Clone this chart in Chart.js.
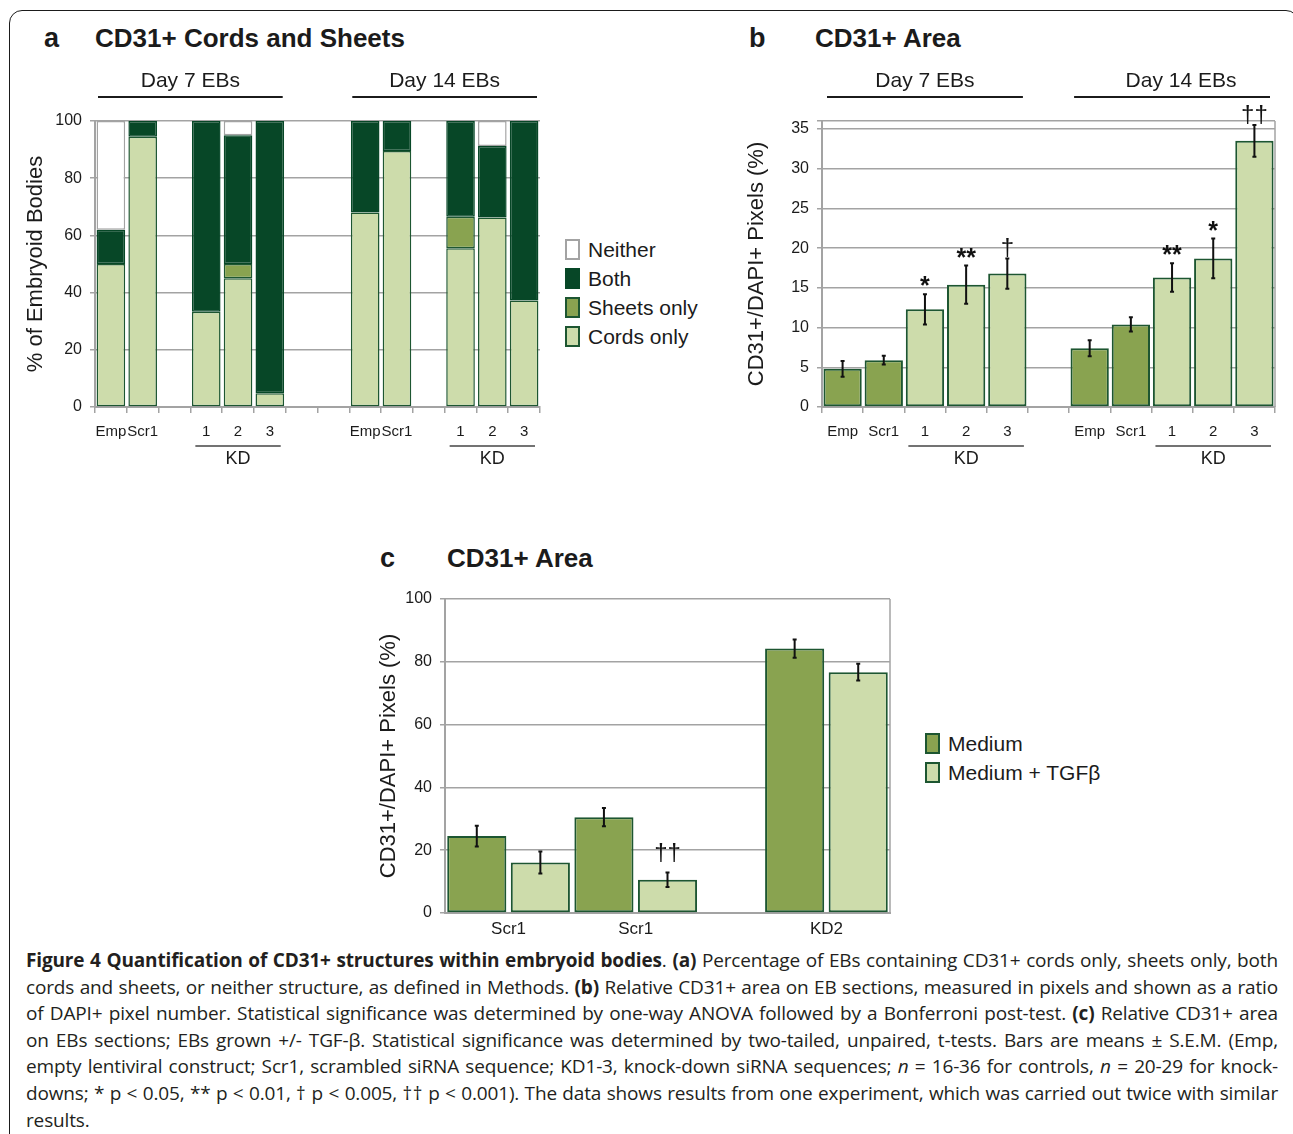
<!DOCTYPE html>
<html lang="en">
<head>
<meta charset="utf-8">
<title>Quantification of CD31+ structures within embryoid bodies</title>
<script src="https://cdn.jsdelivr.net/npm/chart.js@4.4.1/dist/chart.umd.min.js"></script>
<style>
  html, body { margin: 0; padding: 0; background: #fff; }
  body { position: relative; width: 1293px; height: 1134px; overflow: hidden;
         font-family: "Liberation Sans", Arial, sans-serif; color: #1b1b1b; }
  .frame { position: absolute; left: 9px; top: 10px; width: 1290px; height: 1200px;
           border: 1.5px solid #1b1b1b; border-radius: 13px; box-sizing: border-box; }
  .abs { position: absolute; white-space: nowrap; }
  .letter { font-weight: bold; font-size: 27px; line-height: 30px; }
  .title { font-weight: bold; font-size: 26px; line-height: 30px; }
  canvas { position: absolute; }
  .legend { position: absolute; font-size: 21px; line-height: 29px; white-space: nowrap; }
  .legend .item { display: flex; align-items: center; height: 29px; }
  .legend .sw { width: 15px; height: 21px; box-sizing: border-box; border: 2px solid; margin-right: 8px; }
  .caption { position: absolute; left: 26px; top: 947px; width: 1252px;
             font-family: "Open Sans", sans-serif; font-size: 19px; letter-spacing: -0.15px;
             line-height: 26.6px; color: #231f20; }
  .caption div { text-align: justify; text-align-last: justify; height: 26.6px; }
  .caption div.last { text-align-last: left; }
</style>
</head>
<body>
<div class="frame"></div>

<div class="abs letter" style="left:44px;top:23px">a</div>
<div class="abs title" style="left:95px;top:23px">CD31+ Cords and Sheets</div>
<div class="abs letter" style="left:749px;top:23px">b</div>
<div class="abs title" style="left:815px;top:23px">CD31+ Area</div>
<div class="abs letter" style="left:380px;top:543px">c</div>
<div class="abs title" style="left:447px;top:543px">CD31+ Area</div>

<canvas id="chartA" width="530" height="425" style="left:20px;top:55px"></canvas>
<div id="legendA" class="legend" style="left:565px;top:235px"></div>

<canvas id="chartB" width="555" height="425" style="left:730px;top:55px"></canvas>

<canvas id="chartC" width="530" height="360" style="left:370px;top:580px"></canvas>
<div id="legendC" class="legend" style="left:925px;top:729px"></div>

<div class="caption">
  <div><b>Figure 4 Quantification of CD31+ structures within embryoid bodies</b>. <b>(a)</b> Percentage of EBs containing CD31+ cords only, sheets only, both</div>
  <div>cords and sheets, or neither structure, as defined in Methods. <b>(b)</b> Relative CD31+ area on EB sections, measured in pixels and shown as a ratio</div>
  <div>of DAPI+ pixel number. Statistical significance was determined by one-way ANOVA followed by a Bonferroni post-test. <b>(c)</b> Relative CD31+ area</div>
  <div>on EBs sections; EBs grown +/- TGF-β. Statistical significance was determined by two-tailed, unpaired, t-tests. Bars are means ± S.E.M. (Emp,</div>
  <div>empty lentiviral construct; Scr1, scrambled siRNA sequence; KD1-3, knock-down siRNA sequences; <i>n</i> = 16-36 for controls, <i>n</i> = 20-29 for knock-</div>
  <div>downs; * p &lt; 0.05, ** p &lt; 0.01, † p &lt; 0.005, †† p &lt; 0.001). The data shows results from one experiment, which was carried out twice with similar</div>
  <div class="last">results.</div>
</div>

<script>
// ---------- Panel a: EBs with CD31+ cords / sheets (% of embryoid bodies) ----------
const aCategories = ['Emp', 'Scr1', '', '1', '2', '3', '', '', 'Emp', 'Scr1', '', '1', '2', '3'];
const aCordsOnly  = [50, 94.5, null, 33.3, 45, 4.8, null, null, 68, 89.5, null, 55.5, 66.3, 37.2];
const aSheetsOnly = [null, null, null, null, 5, null, null, null, null, null, null, 11, null, null];
const aBoth       = [12, 5.5, null, 66.7, 45, 95.2, null, null, 32, 10.5, null, 33.5, 25, 62.8];
const aNeither    = [38, null, null, null, 5, null, null, null, null, null, null, null, 8.7, null];
const aTicks = [0, 20, 40, 60, 80, 100];

// ---------- Panel b: CD31+/DAPI+ pixels (%) ----------
const bCategories = ['Emp', 'Scr1', '1', '2', '3', '', 'Emp', 'Scr1', '1', '2', '3'];
const bArea       = [4.8, 5.9, 12.3, 15.4, 16.8, null, 7.4, 10.4, 16.3, 18.7, 33.5];
const bAreaSem    = [1.0, 0.55, 1.9, 2.4, 1.9, null, 1.0, 0.9, 1.8, 2.5, 2.0];
const bSignif     = ['', '', '*', '**', '†', '', '', '', '**', '*', '††'];
const bTicks = [0, 5, 10, 15, 20, 25, 30, 35];

// ---------- Panel c: CD31+/DAPI+ pixels (%), +/- TGF-beta ----------
const cGroups     = ['Scr1', 'Scr1', 'KD2'];
const cMedium     = [24.5, 30.5, 84.2];
const cMediumSem  = [3.3, 2.9, 2.9];
const cTgf        = [16.1, 10.6, 76.7];
const cTgfSem     = [3.5, 2.3, 2.65];
const cTgfSignif  = ['', '††', ''];
const cTicks = [0, 20, 40, 60, 80, 100];

// ---------- shared styling ----------
const INK = '#1b1b1b';
const GRID = '#a3a3a3';
const EDGE = '#1d5631';
const LIGHT = '#cddcab';
const MID = '#89a350';
const DARK = '#074727';
const FONT = '"Liberation Sans", Arial, sans-serif';

Chart.defaults.font.family = FONT;
Chart.defaults.color = INK;

// error bars, significance marks, plot border and bracketed group labels
const figureMarks = {
  id: 'figureMarks',
  beforeDatasetsDraw(chart, args, opts) {
    if (!opts.rightBorder) return;
    const { ctx, chartArea: a } = chart;
    ctx.save();
    ctx.strokeStyle = GRID; ctx.lineWidth = 1.5;
    ctx.beginPath(); ctx.moveTo(a.right, a.top); ctx.lineTo(a.right, a.bottom); ctx.stroke();
    ctx.restore();
  },
  afterDatasetsDraw(chart, args, opts) {
    const ctx = chart.ctx;
    const xs = chart.scales.x, ys = chart.scales.y;
    ctx.save();
    chart.data.datasets.forEach((ds, di) => {
      if (!ds.errors) return;
      chart.getDatasetMeta(di).data.forEach((bar, i) => {
        const v = ds.data[i], e = ds.errors[i];
        if (v == null || e == null) return;
        const yTop = ys.getPixelForValue(v + e), yBot = ys.getPixelForValue(v - e);
        ctx.strokeStyle = '#111'; ctx.lineWidth = 2;
        ctx.beginPath();
        ctx.moveTo(bar.x, yTop); ctx.lineTo(bar.x, yBot);
        ctx.moveTo(bar.x - 2, yTop); ctx.lineTo(bar.x + 2, yTop);
        ctx.moveTo(bar.x - 2, yBot); ctx.lineTo(bar.x + 2, yBot);
        ctx.stroke();
        const mark = ds.marks && ds.marks[i];
        if (mark) {
          const dagger = mark.includes('†');
          ctx.fillStyle = '#111';
          ctx.font = dagger ? '24px ' + FONT : 'bold 25px ' + FONT;
          ctx.textAlign = 'center'; ctx.textBaseline = 'alphabetic';
          ctx.fillText(mark, bar.x, yTop - (dagger ? opts.daggerGap : opts.starGap));
        }
      });
    });
    const n = chart.data.labels.length;
    const slot = (xs.right - xs.left) / n;
    (opts.spans || []).forEach(s => {
      const x0 = xs.getPixelForValue(s.from) - slot / 2 + (s.inset || 0);
      const x1 = xs.getPixelForValue(s.to) + slot / 2 - (s.inset || 0);
      if (s.lineY != null) {
        ctx.strokeStyle = s.lineColor || INK; ctx.lineWidth = s.lineWidth || 2;
        ctx.beginPath(); ctx.moveTo(x0, s.lineY); ctx.lineTo(x1, s.lineY); ctx.stroke();
      }
      ctx.fillStyle = INK; ctx.font = s.font;
      ctx.textAlign = 'center'; ctx.textBaseline = 'middle';
      ctx.fillText(s.text, (x0 + x1) / 2 + (s.dx || 0), s.textY);
    });
    ctx.restore();
  }
};

function fixedTicks(values) {
  return scale => { scale.ticks = values.map(v => ({ value: v })); };
}

function yAxis(ticks, max, title, width, titlePad) {
  return {
    min: 0, max: max,
    afterBuildTicks: fixedTicks(ticks),
    afterFit: s => { s.width = width; },
    grid: { color: GRID, lineWidth: 1.5, tickLength: 5, tickColor: GRID },
    border: { color: GRID, width: 2 },
    ticks: { font: { size: 16 }, color: INK, padding: 8 },
    title: { display: true, text: title, font: { size: 22 }, color: INK, padding: { top: titlePad, bottom: 0 } }
  };
}

const common = {
  responsive: false,
  animation: false,
  devicePixelRatio: 1,
  events: [],
  plugins: { legend: { display: false }, tooltip: { enabled: false } }
};

// ---------- Panel a ----------
const chartA = new Chart(document.getElementById('chartA'), {
  type: 'bar',
  plugins: [figureMarks],
  data: {
    labels: aCategories,
    datasets: [
      { label: 'Cords only',  data: aCordsOnly,  backgroundColor: LIGHT, borderColor: EDGE },
      { label: 'Sheets only', data: aSheetsOnly, backgroundColor: MID,   borderColor: EDGE },
      { label: 'Both',        data: aBoth,       backgroundColor: DARK,  borderColor: DARK },
      { label: 'Neither',     data: aNeither,    backgroundColor: '#ffffff', borderColor: GRID }
    ]
  },
  options: {
    ...common,
    layout: { padding: { left: 0, top: 66, right: 10, bottom: 0 } },
    datasets: { bar: { barPercentage: 0.9, categoryPercentage: 1, borderWidth: 1.5, borderSkipped: false } },
    plugins: {
      ...common.plugins,
      figureMarks: {
        spans: [
          { from: 0, to: 5,  text: 'Day 7 EBs',  textY: 26, lineY: 42, inset: 3, font: '21px ' + FONT },
          { from: 8, to: 13, text: 'Day 14 EBs', textY: 26, lineY: 42, inset: 3, font: '21px ' + FONT },
          { from: 3, to: 5,   text: 'KD', textY: 404, lineY: 391, inset: 5, lineWidth: 1.5, lineColor: '#444', font: '18px ' + FONT },
          { from: 11, to: 13, text: 'KD', textY: 404, lineY: 391, inset: 5, lineWidth: 1.5, lineColor: '#444', font: '18px ' + FONT }
        ]
      }
    },
    scales: {
      x: {
        stacked: true,
        afterFit: s => { s.height = 73; },
        grid: { display: true, drawOnChartArea: false, tickLength: 6, color: GRID, lineWidth: 1.5 },
        border: { color: GRID, width: 2 },
        ticks: { autoSkip: false, maxRotation: 0, font: { size: 15 }, color: INK, padding: 10 }
      },
      y: { ...yAxis(aTicks, 100, '% of Embryoid Bodies', 75, 3), stacked: true }
    }
  }
});

// ---------- Panel b ----------
const isKnockdown = bCategories.map(c => ['1', '2', '3'].includes(c));
const chartB = new Chart(document.getElementById('chartB'), {
  type: 'bar',
  plugins: [figureMarks],
  data: {
    labels: bCategories,
    datasets: [{
      label: 'CD31+/DAPI+ Pixels (%)',
      data: bArea,
      errors: bAreaSem,
      marks: bSignif,
      backgroundColor: isKnockdown.map(k => k ? LIGHT : MID),
      borderColor: EDGE
    }]
  },
  options: {
    ...common,
    layout: { padding: { left: 0, top: 66, right: 10, bottom: 0 } },
    datasets: { bar: { barPercentage: 0.93, categoryPercentage: 1, borderWidth: 2, borderSkipped: false } },
    plugins: {
      ...common.plugins,
      figureMarks: {
        rightBorder: true, starGap: 0, daggerGap: 3,
        spans: [
          { from: 0, to: 4,  text: 'Day 7 EBs',  textY: 26, lineY: 42, inset: 5, font: '21px ' + FONT },
          { from: 6, to: 10, text: 'Day 14 EBs', textY: 26, lineY: 42, inset: 5, dx: 9, font: '21px ' + FONT },
          { from: 2, to: 4,  text: 'KD', textY: 404, lineY: 391, inset: 4, lineWidth: 1.5, lineColor: '#444', font: '18px ' + FONT },
          { from: 8, to: 10, text: 'KD', textY: 404, lineY: 391, inset: 4, lineWidth: 1.5, lineColor: '#444', font: '18px ' + FONT }
        ]
      }
    },
    scales: {
      x: {
        afterFit: s => { s.height = 73; },
        grid: { display: true, drawOnChartArea: false, tickLength: 6, color: GRID, lineWidth: 1.5 },
        border: { color: GRID, width: 2 },
        ticks: { autoSkip: false, maxRotation: 0, font: { size: 15 }, color: INK, padding: 10 }
      },
      y: yAxis(bTicks.concat([36]), 36, 'CD31+/DAPI+ Pixels (%)', 92, 14)
    }
  }
});
chartB.options.scales.y.ticks.callback = v => (bTicks.includes(v) ? v : '');
chartB.update();

// ---------- Panel c ----------
// each group takes two slots (Medium, Medium + TGFβ); an empty slot separates the KD2 group
const cSlotOfGroup = [0, 2, 5];
const cSlotCount = 7;
const cMediumSlots = new Array(cSlotCount).fill(null);
const cMediumSemSlots = new Array(cSlotCount).fill(null);
const cTgfSlots = new Array(cSlotCount).fill(null);
const cTgfSemSlots = new Array(cSlotCount).fill(null);
const cTgfSignifSlots = new Array(cSlotCount).fill('');
cSlotOfGroup.forEach((s, g) => {
  cMediumSlots[s] = cMedium[g];       cMediumSemSlots[s] = cMediumSem[g];
  cTgfSlots[s + 1] = cTgf[g];         cTgfSemSlots[s + 1] = cTgfSem[g];
  cTgfSignifSlots[s + 1] = cTgfSignif[g];
});

const chartC = new Chart(document.getElementById('chartC'), {
  type: 'bar',
  plugins: [figureMarks],
  data: {
    labels: new Array(cSlotCount).fill(''),
    datasets: [
      { label: 'Medium', data: cMediumSlots, errors: cMediumSemSlots, backgroundColor: MID, borderColor: EDGE },
      { label: 'Medium + TGFβ', data: cTgfSlots, errors: cTgfSemSlots, marks: cTgfSignifSlots, backgroundColor: LIGHT, borderColor: EDGE }
    ]
  },
  options: {
    ...common,
    layout: { padding: { left: 0, top: 19, right: 10, bottom: 0 } },
    datasets: { bar: { grouped: false, barPercentage: 0.93, categoryPercentage: 1, borderWidth: 2, borderSkipped: false } },
    plugins: {
      ...common.plugins,
      figureMarks: {
        rightBorder: true, starGap: 0, daggerGap: 12,
        spans: cGroups.map((name, g) => ({
          from: cSlotOfGroup[g], to: cSlotOfGroup[g] + 1, text: name, textY: 349, font: '17px ' + FONT
        }))
      }
    },
    scales: {
      x: {
        afterFit: s => { s.height = 27; },
        grid: { display: false },
        border: { color: GRID, width: 2 },
        ticks: { display: false }
      },
      y: yAxis(cTicks, 100, 'CD31+/DAPI+ Pixels (%)', 75, 6)
    }
  }
});

// ---------- legends built from the chart datasets ----------
function buildLegend(el, chart, reverse) {
  const items = chart.data.datasets.map(ds => ds);
  if (reverse) items.reverse();
  items.forEach(ds => {
    const row = document.createElement('div');
    row.className = 'item';
    const sw = document.createElement('span');
    sw.className = 'sw';
    sw.style.background = ds.backgroundColor;
    sw.style.borderColor = ds.borderColor;
    const label = document.createElement('span');
    label.textContent = ds.label;
    row.appendChild(sw); row.appendChild(label);
    el.appendChild(row);
  });
}
buildLegend(document.getElementById('legendA'), chartA, true);
buildLegend(document.getElementById('legendC'), chartC, false);
</script>
</body>
</html>
